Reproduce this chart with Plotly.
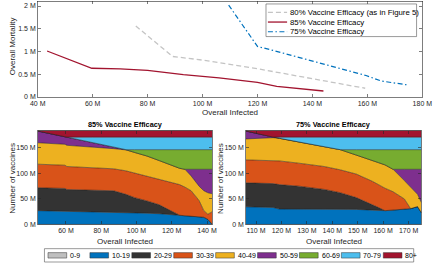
import plotly.graph_objects as go

# ---------------- data (millions) ----------------
# Top panel: overall mortality vs overall infected
inf_80 = [75.7, 89.1, 100, 110, 120, 130, 141, 150, 159.2]
mort_80 = [1.56, 0.89, 0.81, 0.72, 0.62, 0.51, 0.39, 0.29, 0.19]
inf_85 = [43.4, 59.7, 70, 80, 93, 106, 120, 127, 144]
mort_85 = [1.01, 0.63, 0.615, 0.585, 0.49, 0.42, 0.32, 0.23, 0.13]
inf_75 = [109.5, 120, 124.6, 141, 159.5, 165, 175]
mort_75 = [2.02, 1.11, 1.04, 0.77, 0.47, 0.35, 0.26]

age_groups = ['0-9', '10-19', '20-29', '30-39', '40-49', '50-59', '60-69', '70-79', '80+']
age_colors = ['#BFBFBF', '#0072BD', '#333333', '#D95319', '#EDB120',
              '#7E2F8E', '#77AC30', '#4DBEEE', '#A2142F']

# Bottom-left: 85% efficacy, vaccines per age group
x85 = [44, 59.5, 60.5, 75, 87, 94, 99, 106, 113, 116, 120, 124.5, 127.5, 131, 135.5, 138.2, 140.5, 143]
v85_0_9 = [0, 0, 0, 0, 0, 0, 0, 0, 0, 0, 0, 0, 0, 0, 0, 0, 0, 0]
v85_10_19 = [27, 26, 26, 25, 24, 23.5, 23, 22, 21, 20, 19, 18, 17, 16.5, 15, 14, 10, 0]
v85_20_29 = [45, 44.5, 42.5, 42.5, 42, 35.5, 29.5, 24, 17.5, 13, 7, 0, 0, 0, 0, 0, 0, 0]
v85_30_39 = [46, 45.5, 45, 43.5, 43, 46, 48, 49, 50.5, 53, 57, 60, 56, 49.5, 32, 13, 10, 25]
v85_40_49 = [42, 41, 41.5, 41, 39.5, 41, 40.5, 39, 36, 35, 33, 32, 35, 29, 28, 39, 42, 35]
v85_50_59 = [23, 14.4, 15.6, 7.7, 2.1, 0.5, 0, 0, 0, 0, 0, 0, 0, 13, 33, 42, 46, 48]
v85_60_69 = [0, 0, 0, 0, 0, 0, 5.5, 12.5, 21.5, 25.5, 30.5, 36.5, 38.5, 38.5, 38.5, 38.5, 38.5, 38.5]
v85_70_79 = [0, 0, 0.4, 11.3, 20.4, 24.5, 24.5, 24.5, 24.5, 24.5, 24.5, 24.5, 24.5, 24.5, 24.5, 24.5, 24.5, 24.5]
v85_80p = [1, 12.6, 13, 13, 13, 13, 13, 13, 13, 13, 13, 13, 13, 13, 13, 13, 13, 13]

# Bottom-right: 75% efficacy
x75 = [106, 116.7, 119.2, 126.8, 136.8, 143.1, 149.4, 155.7, 158.2, 160.7, 163.9, 168.3, 170.8, 173.5, 175]
v75_0_9 = [0, 0, 0, 0, 0, 0, 0, 0, 0, 0, 0, 0, 0, 0, 0]
v75_10_19 = [34.5, 33.3, 30, 30, 29.5, 29.5, 29.5, 28, 27, 27, 28, 30, 31, 35, 23]
v75_20_29 = [47, 46.7, 48, 45, 39.1, 32.7, 23.1, 11.7, 6, 0, 0, 0, 0, 0, 0]
v75_30_39 = [45, 45, 46.4, 45, 44.9, 44.8, 46.1, 44.9, 44, 44, 36, 20, 0, 0, 0]
v75_40_49 = [41, 45, 44.3, 41.6, 38.8, 39.5, 37.2, 41.7, 44, 45.7, 44, 36, 42, 24, 20]
v75_50_59 = [15.5, 1, 0, 0, 0, 0, 0, 0, 0, 0, 0, 22, 35, 49, 65]
v75_60_69 = [0, 0, 0, 0, 0, 0, 10.6, 20.2, 25.5, 29.8, 38.5, 38.5, 38.5, 38.5, 38.5]
v75_70_79 = [0, 0, 2.3, 9.4, 18.7, 24.5, 24.5, 24.5, 24.5, 24.5, 24.5, 24.5, 24.5, 24.5, 24.5]
v75_80p = [1, 13, 13, 13, 13, 13, 13, 13, 13, 13, 13, 13, 13, 13, 13]

top_xticks = [40, 60, 80, 100, 120, 140, 160, 180]
top_yticks = [0, 0.5, 1, 1.5, 2]
bl_xticks = [60, 80, 100, 120, 140]
br_xticks = [110, 120, 130, 140, 150, 160, 170]
vac_yticks = [0, 50, 100, 150]

# ---------------- styling helpers ----------------
W, H = 440, 266
FONT = 'Liberation Sans, Arial, Helvetica, sans-serif'
AX = '#262626'


def fx(px):
    return px / W


def fy(py):
    return 1 - py / H


def mlabels(vals):
    return ['%g M' % v for v in vals]


def axis_style(vals, **kw):
    d = dict(showline=True, linecolor=AX, linewidth=0.6, mirror='ticks',
             ticks='inside', ticklen=3, tickwidth=0.6, tickcolor=AX,
             showgrid=False, zeroline=False, tickmode='array',
             tickvals=vals, ticktext=mlabels(vals),
             tickfont=dict(size=7, color=AX, family=FONT))
    d.update(kw)
    return d


fig = go.Figure()

# top panel lines
fig.add_trace(go.Scatter(x=inf_80, y=mort_80, mode='lines', xaxis='x', yaxis='y',
                         line=dict(color='#C4C4C4', width=1.3, dash='5px,3px'),
                         showlegend=False))
fig.add_trace(go.Scatter(x=inf_85, y=mort_85, mode='lines', xaxis='x', yaxis='y',
                         line=dict(color='#A2142F', width=1.3), showlegend=False))
fig.add_trace(go.Scatter(x=inf_75, y=mort_75, mode='lines', xaxis='x', yaxis='y',
                         line=dict(color='#0072BD', width=1.2, dash='5px,2.5px,1.5px,2.5px'),
                         showlegend=False))

series85 = [v85_0_9, v85_10_19, v85_20_29, v85_30_39, v85_40_49,
            v85_50_59, v85_60_69, v85_70_79, v85_80p]
series75 = [v75_0_9, v75_10_19, v75_20_29, v75_30_39, v75_40_49,
            v75_50_59, v75_60_69, v75_70_79, v75_80p]

for name, vals, col in zip(age_groups, series85, age_colors):
    fig.add_trace(go.Scatter(x=x85, y=vals, stackgroup='s85', mode='lines', name=name,
                             line=dict(width=0.5, color='#1a1a1a'), fillcolor=col,
                             xaxis='x2', yaxis='y2', showlegend=False))
for name, vals, col in zip(age_groups, series75, age_colors):
    fig.add_trace(go.Scatter(x=x75, y=vals, stackgroup='s75', mode='lines', name=name,
                             line=dict(width=0.5, color='#1a1a1a'), fillcolor=col,
                             xaxis='x3', yaxis='y3', showlegend=False))

top_dom_x = [fx(31), fx(432)]
top_dom_y = [fy(98), fy(1.5)]
bl_dom_x = [fx(31), fx(213)]
br_dom_x = [fx(248), fx(431)]
bot_dom_y = [fy(227), fy(132)]

fig.update_layout(
    width=W, height=H, margin=dict(l=0, r=0, t=0, b=0),
    paper_bgcolor='white', plot_bgcolor='white',
    font=dict(family=FONT, size=7, color=AX),
    xaxis=axis_style(top_xticks, domain=top_dom_x, anchor='y', range=[40, 180]),
    yaxis=axis_style(top_yticks, domain=top_dom_y, anchor='x', range=[0, 2.1]),
    xaxis2=axis_style(bl_xticks, domain=bl_dom_x, anchor='y2', range=[44, 143]),
    yaxis2=axis_style(vac_yticks, domain=bot_dom_y, anchor='x2', range=[0, 184]),
    xaxis3=axis_style(br_xticks, domain=br_dom_x, anchor='y3', range=[106, 175]),
    yaxis3=axis_style(vac_yticks, domain=bot_dom_y, anchor='x3', range=[0, 184]),
    showlegend=False,
)

ann = []


def text(px, py, s, size=8, bold=False, angle=0, xanchor='center', color=AX):
    ann.append(dict(x=fx(px), y=fy(py), xref='paper', yref='paper', text=('<b>%s</b>' % s) if bold else s,
                    showarrow=False, textangle=angle, xanchor=xanchor, yanchor='middle',
                    borderpad=0, font=dict(family=FONT, size=size, color=color)))


text(231.5, 114, 'Overall Infected')
text(5, 47, 'Overall Mortality', angle=-90)
text(122, 126, '85% Vaccine Efficacy', size=7.3, bold=True, color='#000')
text(339.5, 126, '75% Vaccine Efficacy', size=7.3, bold=True, color='#000')
text(5, 180, 'Number of vaccines', angle=-90)
text(222, 180, 'Number of vaccines', angle=-90)
text(122, 244, 'Overall Infected')
text(339.5, 244, 'Overall Infected')

shapes = []

# top legend (box + samples)
shapes.append(dict(type='rect', xref='paper', yref='paper', x0=fx(269), x1=fx(426), y0=fy(37), y1=fy(4),
                   line=dict(color='#555', width=0.6), fillcolor='white', layer='above'))
top_leg = [('80% Vaccine Efficacy (as in Figure 5)', '#C4C4C4', '5px,3px', 1.3),
           ('85% Vaccine Efficacy', '#A2142F', 'solid', 1.3),
           ('75% Vaccine Efficacy', '#0072BD', '5px,2.5px,1.5px,2.5px', 1.2)]
for i, (lab, col, dash, wd) in enumerate(top_leg):
    yy = 12.5 + i * 9.8
    shapes.append(dict(type='line', xref='paper', yref='paper', x0=fx(271), x1=fx(291), y0=fy(yy), y1=fy(yy),
                       line=dict(color=col, width=wd, dash=dash), layer='above'))
    text(293.5, yy, lab, size=7.8, xanchor='left', color='#000')

# bottom legend (box + swatches)
shapes.append(dict(type='rect', xref='paper', yref='paper', x0=fx(38), x1=fx(423), y0=fy(265), y1=fy(251.5),
                   line=dict(color='#555', width=0.6), fillcolor='white', layer='above'))
for i, (lab, col) in enumerate(zip(age_groups, age_colors)):
    x0 = 41.7 + i * 43.7
    shapes.append(dict(type='rect', xref='paper', yref='paper', x0=fx(x0), x1=fx(x0 + 19.5),
                       y0=fy(261), y1=fy(255.5), line=dict(color='#333', width=0.5),
                       fillcolor=col, layer='above'))
    text(x0 + 22, 258.3, lab, size=7, xanchor='left', color='#000')

fig.update_layout(annotations=ann, shapes=shapes)

fig.write_html('out.html', config={'displayModeBar': False, 'staticPlot': True},
               post_script="document.body.style.margin='0px';document.body.style.padding='0px';"
                           "document.body.style.overflow='hidden';")
